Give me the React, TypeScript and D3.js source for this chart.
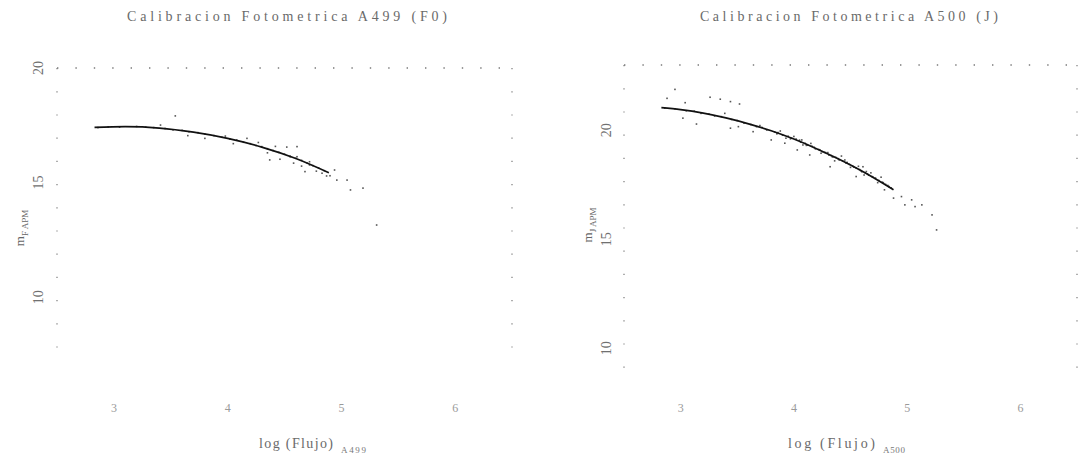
import React from "react";
import * as d3 from "d3";

// ---- A499 (F0) photometric calibration ----
const titleA499 = "Calibracion Fotometrica A499 (F0)";
const fitA499LogF = [2.83, 3.1, 3.4, 3.7, 4.0, 4.3, 4.6, 4.89];
const fitA499Mag = [17.41, 17.44, 17.38, 17.2, 16.93, 16.55, 16.05, 15.43];
const starsA499LogF = [
  2.86, 2.95, 3.05, 3.2, 3.28, 3.35, 3.45, 3.52, 3.6, 3.66, 3.74, 3.8, 3.88, 3.95, 4.02, 4.08,
  4.14, 4.2, 4.25, 4.3, 4.35, 4.4, 4.45, 4.5, 4.55, 4.6, 4.65, 4.7, 4.75, 4.8, 4.85,
  3.54, 3.41, 3.8, 3.98, 4.17, 4.27, 4.46, 4.52, 4.61, 4.72, 4.87, 4.94, 5.05, 5.19, 5.08,
  5.31, 4.96, 4.83, 4.55, 4.37, 4.68, 4.72, 4.61, 4.42, 3.65, 4.05, 4.35, 4.58, 4.78, 4.65, 4.9,
];
const starsA499Mag = [
  17.4, 17.43, 17.42, 17.45, 17.42, 17.4, 17.36, 17.3, 17.28, 17.22, 17.18, 17.12, 17.05, 16.98, 16.9, 16.86,
  16.76, 16.7, 16.62, 16.57, 16.48, 16.4, 16.32, 16.24, 16.15, 16.06, 15.97, 15.85, 15.74, 15.64, 15.52,
  17.91, 17.51, 16.93, 17.03, 16.93, 16.75, 16.02, 16.55, 16.57, 15.91, 15.29, 15.55, 15.11, 14.76, 14.68,
  13.15, 15.11, 15.41, 16.13, 15.99, 15.48, 15.77, 16.13, 16.58, 17.05, 16.7, 16.3, 15.85, 15.5, 15.72, 15.3,
];
const ticksA499Mag = [20, 15, 10];
const ticksLogF = [3, 4, 5, 6];

// ---- A500 (J) photometric calibration ----
const titleA500 = "Calibracion Fotometrica A500 (J)";
const fitA500LogF = [2.83, 3.0, 3.2, 3.4, 3.6, 3.8, 4.0, 4.2, 4.4, 4.6, 4.88];
const fitA500Mag = [21.04, 20.95, 20.79, 20.57, 20.3, 19.98, 19.6, 19.16, 18.67, 18.13, 17.27];
const starsA500LogF = [
  2.86, 2.95, 3.05, 3.12, 3.18, 3.25, 3.3, 3.36, 3.45, 3.5, 3.56, 3.62, 3.67, 3.72, 3.76, 3.83,
  3.86, 3.9, 3.95, 3.98, 4.02, 4.06, 4.1, 4.12, 4.16, 4.19, 4.22, 4.25, 4.28, 4.31, 4.33, 4.37,
  4.4, 4.43, 4.46, 4.49, 4.52, 4.55, 4.58, 4.6, 4.63, 4.66, 4.69, 4.72, 4.75, 4.78, 4.81, 4.84, 4.86,
  3.88, 3.93, 4.0, 4.08, 4.15, 4.24, 4.3, 4.36, 4.42, 4.5, 4.57, 4.62, 4.68, 4.74, 4.77,
  2.95, 2.88, 3.04, 3.26, 3.35, 3.44, 3.52, 3.02, 3.14, 3.39, 3.44, 3.51, 3.64, 3.8, 3.92,
  4.03, 4.07, 4.14, 4.23, 4.32, 4.35, 4.45, 4.55, 4.61, 4.64, 4.72, 4.8, 4.88, 4.95, 4.98,
  5.04, 5.07, 5.13, 5.22, 5.26,
  3.7, 3.85, 3.97, 4.05, 4.11, 4.18, 4.27, 4.34, 4.39, 4.47, 4.53, 4.59, 4.65, 4.7, 4.79, 4.83,
];
const starsA500Mag = [
  21.02, 20.99, 20.9, 20.88, 20.78, 20.75, 20.66, 20.63, 20.5, 20.45, 20.33, 20.27, 20.17, 20.13, 20.02, 19.93,
  19.9, 19.78, 19.73, 19.64, 19.6, 19.46, 19.4, 19.32, 19.27, 19.15, 19.12, 19.02, 18.98, 18.86, 18.84, 18.76,
  18.64, 18.6, 18.5, 18.44, 18.35, 18.27, 18.2, 18.1, 18.06, 17.94, 17.88, 17.8, 17.7, 17.62, 17.52, 17.42, 17.36,
  19.97, 19.64, 19.72, 19.33, 19.4, 18.95, 18.98, 18.6, 18.82, 18.3, 18.35, 17.95, 18.05, 17.6, 17.85,
  21.88, 21.47, 21.27, 21.52, 21.43, 21.32, 21.21, 20.56, 20.29, 20.78, 20.1, 20.17, 19.94, 19.56, 19.41,
  19.1, 19.56, 18.87, 19.1, 18.33, 18.79, 18.64, 17.88, 18.33, 18.11, 17.8, 17.27, 16.89, 16.96, 16.58,
  16.81, 16.5, 16.58, 16.12, 15.43,
  20.22, 19.84, 19.61, 19.55, 19.31, 19.22, 18.99, 18.78, 18.7, 18.53, 18.31, 18.15, 18.0, 17.85, 17.6, 17.47,
];
const ticksA500Mag = [20, 15, 10];

const FONT = "'Liberation Serif', 'DejaVu Serif', serif";

type PanelProps = {
  title: string;
  titleX: number;
  titleLen: number;
  band: string;
  field: string;
  xRange: [number, number];
  yDomain: [number, number];
  yRange: [number, number];
  fitX: number[];
  fitY: number[];
  ptsX: number[];
  ptsY: number[];
  magTicks: number[];
  yLabelX: number;
  yTitleX: number;
  yTitleY: number;
  xTitleX: number;
  xTitleLen: number;
  subLen: number;
};

function Panel(p: PanelProps) {
  const x = d3.scaleLinear().domain([2.5, 6.5]).range(p.xRange);
  const y = d3.scaleLinear().domain(p.yDomain).range(p.yRange);
  const fit = d3
    .line<number>()
    .x((d) => x(d))
    .y((_, i) => y(p.fitY[i]))
    .curve(d3.curveMonotoneX);
  const [x0, x1] = p.xRange;
  const [yb, yt] = p.yRange;
  const dot = "#7a7a7a";
  return (
    <g>
      <text
        x={p.titleX}
        y={21}
        fontFamily={FONT}
        fontSize={14}
        fill="#6a6a6a"
        textLength={p.titleLen}
        lengthAdjust="spacing"
      >
        {p.title}
      </text>
      {/* dotted frame */}
      <line x1={x0} x2={x1} y1={yt} y2={yt} stroke={dot} strokeWidth={1.3} strokeDasharray="1.4 17" />
      <line x1={x0} x2={x0} y1={yt} y2={yb} stroke={dot} strokeWidth={1.2} strokeDasharray="1.2 22" />
      <line x1={x1} x2={x1} y1={yt} y2={yb} stroke={dot} strokeWidth={1.2} strokeDasharray="1.2 22" />
      {/* magnitude ticks */}
      {p.magTicks.map((t) => (
        <text
          key={t}
          transform={`translate(${p.yLabelX},${y(t)}) rotate(-90)`}
          textAnchor="middle"
          fontFamily={FONT}
          fontSize={14}
          fill="#707070"
        >
          {t}
        </text>
      ))}
      {/* flux ticks */}
      {ticksLogF.map((t) => (
        <text
          key={t}
          x={x(t)}
          y={412}
          textAnchor="middle"
          fontFamily={FONT}
          fontSize={12}
          fill="#9a9a9a"
        >
          {t}
        </text>
      ))}
      {/* stars */}
      {p.ptsX.map((v, i) => (
        <rect key={i} x={x(v) - 0.8} y={y(p.ptsY[i]) - 0.8} width={1.6} height={1.6} fill="#555" />
      ))}
      {/* calibration fit */}
      <path d={fit(p.fitX) ?? ""} fill="none" stroke="#111" strokeWidth={1.7} />
      {/* axis titles */}
      <text
        transform={`translate(${p.yTitleX},${p.yTitleY}) rotate(-90)`}
        textAnchor="middle"
        fontFamily={FONT}
        fontSize={13}
        fill="#666"
      >
        m
        <tspan fontSize={9} dy={4}>
          {p.band} APM
        </tspan>
      </text>
      <text x={p.xTitleX} y={448} fontFamily={FONT} fontSize={14} fill="#6a6a6a" textLength={p.xTitleLen} lengthAdjust="spacing">
        log (Flujo)
      </text>
      <text
        x={p.xTitleX + p.xTitleLen + 8}
        y={453}
        fontFamily={FONT}
        fontSize={9}
        fill="#777"
        textLength={p.subLen}
        lengthAdjust="spacing"
      >
        {p.field}
      </text>
    </g>
  );
}

export default function App() {
  return (
    <svg
      width={1078}
      height={454}
      viewBox="0 0 1078 454"
      style={{ position: "absolute", left: 0, top: 0, background: "#fff" }}
    >
      <rect width={1078} height={454} fill="#fff" />
      <Panel
        title={titleA499}
        titleX={127}
        titleLen={320}
        band="F"
        field="A499"
        xRange={[57, 512]}
        yDomain={[7, 20]}
        yRange={[366, 68]}
        fitX={fitA499LogF}
        fitY={fitA499Mag}
        ptsX={starsA499LogF}
        ptsY={starsA499Mag}
        magTicks={ticksA499Mag}
        yLabelX={43}
        yTitleX={24}
        yTitleY={228}
        xTitleX={259}
        xTitleLen={74}
        subLen={25}
      />
      <Panel
        title={titleA500}
        titleX={700}
        titleLen={298}
        band="J"
        field="A500"
        xRange={[624, 1077]}
        yDomain={[9, 23]}
        yRange={[370, 65]}
        fitX={fitA500LogF}
        fitY={fitA500Mag}
        ptsX={starsA500LogF}
        ptsY={starsA500Mag}
        magTicks={ticksA500Mag}
        yLabelX={611}
        yTitleX={592}
        yTitleY={225}
        xTitleX={788}
        xTitleLen={87}
        subLen={22}
      />
    </svg>
  );
}
